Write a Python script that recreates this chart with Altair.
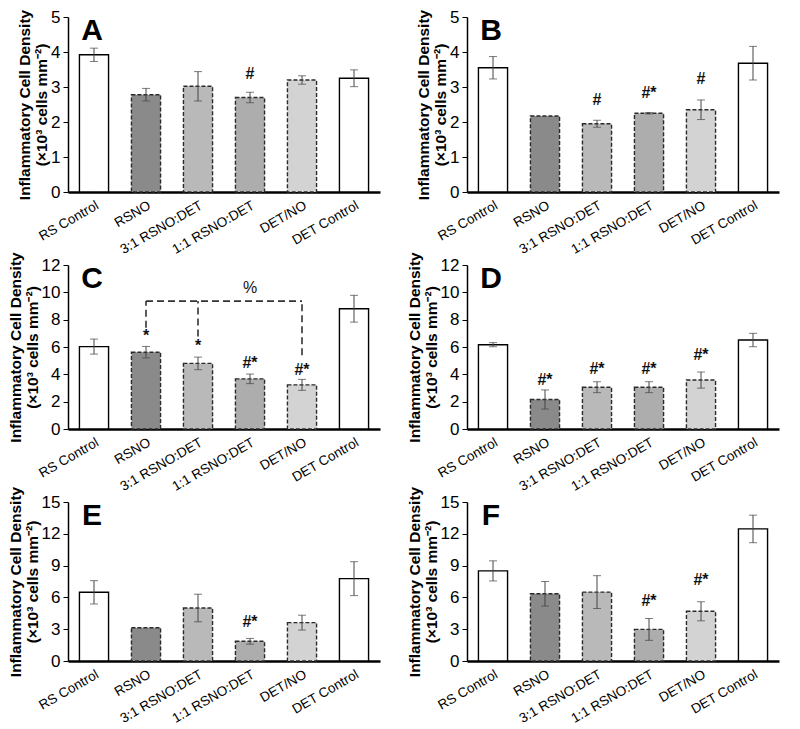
import altair as alt
import pandas as pd

categories = ["RS Control", "RSNO", "3:1 RSNO:DET", "1:1 RSNO:DET", "DET/NO", "DET Control"]
fills = ["#ffffff", "#8a8a8a", "#b9b9b9", "#adadad", "#d3d3d3", "#ffffff"]
dashes = [[1, 0], [4, 2], [4, 2], [4, 2], [4, 2], [1, 0]]
strokes = ["#000000", "#2a2a2a", "#2a2a2a", "#2a2a2a", "#2a2a2a", "#000000"]

panels = ["A", "B", "C", "D", "E", "F"]
means = {
    "A": [3.92, 2.78, 3.02, 2.70, 3.20, 3.25],
    "B": [3.55, 2.17, 1.95, 2.25, 2.35, 3.68],
    "C": [6.03, 5.62, 4.80, 3.67, 3.23, 8.80],
    "D": [6.17, 2.16, 3.06, 3.06, 3.58, 6.51],
    "E": [6.48, 3.14, 5.00, 1.86, 3.62, 7.77],
    "F": [8.50, 6.34, 6.50, 2.98, 4.69, 12.46],
}
errs = {
    "A": [0.19, 0.18, 0.42, 0.15, 0.12, 0.24],
    "B": [0.32, 0.0, 0.10, 0.02, 0.28, 0.48],
    "C": [0.55, 0.42, 0.46, 0.35, 0.40, 0.98],
    "D": [0.15, 0.70, 0.40, 0.40, 0.59, 0.49],
    "E": [1.10, 0.0, 1.30, 0.27, 0.70, 1.60],
    "F": [0.95, 1.16, 1.55, 1.03, 0.90, 1.30],
}
y_max = {"A": 5, "B": 5, "C": 12, "D": 12, "E": 15, "F": 15}
y_step = {"A": 1, "B": 1, "C": 2, "D": 2, "E": 3, "F": 3}

ann_panel = ["A", "B", "B", "B", "C", "C", "C", "C", "D", "D", "D", "D", "E", "F", "F"]
ann_cat = ["1:1 RSNO:DET", "3:1 RSNO:DET", "1:1 RSNO:DET", "DET/NO",
           "RSNO", "3:1 RSNO:DET", "1:1 RSNO:DET", "DET/NO",
           "RSNO", "3:1 RSNO:DET", "1:1 RSNO:DET", "DET/NO",
           "1:1 RSNO:DET", "1:1 RSNO:DET", "DET/NO"]
ann_y = [3.38, 2.63, 2.84, 3.22, 6.8, 6.1, 4.8, 4.3, 3.55, 4.4, 4.4, 5.4, 3.68, 5.65, 7.6]
ann_text = ["#", "#", "#*", "#", "*", "*", "#*", "#*", "#*", "#*", "#*", "#*", "#*", "#*", "#*"]

# bracket in panel C
bracket_y = 9.36
bracket_from = "RSNO"
bracket_to = "DET/NO"
drop_cat = ["RSNO", "3:1 RSNO:DET", "DET/NO"]
drop_bottom = [7.4, 6.77, 5.4]
pct_cat = "1:1 RSNO:DET"
pct_y = 10.3

heights = {"A": 175, "B": 175, "C": 164, "D": 164, "E": 159, "F": 159}
FONT = "Liberation Sans, Arial, sans-serif"


def make_panel(p):
    df = pd.DataFrame({"cat": categories, "mean": means[p], "err": errs[p]})
    df["lo"] = df["mean"] - df["err"]
    df["hi"] = df["mean"] + df["err"]
    ymax = y_max[p]
    ticks = list(range(0, ymax + 1, y_step[p]))
    xscale = alt.Scale(domain=categories, paddingInner=0.44, paddingOuter=0.22)
    xaxis = alt.Axis(title=None, labelAngle=-30, labelFontSize=13.5, labelFont=FONT,
                     labelColor="#000", ticks=False, domainWidth=2.4,
                     domainColor="#000", labelPadding=6)
    yscale = alt.Scale(domain=[0, ymax], nice=False, zero=True)
    yaxis = alt.Axis(values=ticks, title=["Inflammatory Cell Density", "(×10³ cells mm⁻²)"],
                     titleFont=FONT, titleFontSize=15.5, titleFontWeight="bold",
                     titleColor="#000", titleLineHeight=17, titlePadding=1, titleLimit=400,
                     labelFont=FONT, labelFontSize=17, labelColor="#000", labelPadding=3,
                     labelOverlap=False,
                     tickSize=5, tickColor="#000", domainColor="#000", domainWidth=1.5,
                     grid=False)

    def X(field):
        return alt.X(field, sort=categories, scale=xscale, axis=xaxis)

    def Y(field):
        return alt.Y(field, scale=yscale, axis=yaxis)

    base = alt.Chart(df)
    bars = base.mark_bar(strokeWidth=1.4).encode(
        x=X("cat:N"),
        y=Y("mean:Q"),
        fill=alt.Fill("cat:N", scale=alt.Scale(domain=categories, range=fills), legend=None),
        stroke=alt.Stroke("cat:N", scale=alt.Scale(domain=categories, range=strokes), legend=None),
        strokeDash=alt.StrokeDash("cat:N", scale=alt.Scale(domain=categories, range=dashes), legend=None),
    )
    eb = base.transform_filter("datum.err > 0")
    rule = eb.mark_rule(color="#444", strokeWidth=1).encode(
        x=X("cat:N"), y=Y("lo:Q"), y2="hi:Q")
    cap_hi = eb.mark_tick(color="#444", thickness=1, size=8).encode(
        x=X("cat:N"), y=Y("hi:Q"))
    cap_lo = eb.mark_tick(color="#444", thickness=1, size=8).encode(
        x=X("cat:N"), y=Y("lo:Q"))
    layers = [bars, rule, cap_hi, cap_lo]

    adf = pd.DataFrame({"panel": ann_panel, "cat": ann_cat, "y": ann_y, "t": ann_text})
    adf = adf[adf["panel"] == p]
    if len(adf):
        layers.append(alt.Chart(adf).mark_text(font=FONT, fontSize=16, fontWeight="bold",
                                               color="#111", baseline="middle").encode(
            x=X("cat:N"), y=Y("y:Q"), text="t:N"))

    if p == "C":
        hdf = pd.DataFrame({"a": [bracket_from], "b": [bracket_to], "y": [bracket_y]})
        layers.append(alt.Chart(hdf).mark_rule(color="#333", strokeWidth=1.6, strokeDash=[7, 4]).encode(
            x=X("a:N"), x2="b:N", y=Y("y:Q")))
        vdf = pd.DataFrame({"cat": drop_cat, "top": [bracket_y] * len(drop_cat), "bot": drop_bottom})
        layers.append(alt.Chart(vdf).mark_rule(color="#333", strokeWidth=1.6, strokeDash=[7, 4]).encode(
            x=X("cat:N"), y=Y("bot:Q"), y2="top:Q"))
        pdf = pd.DataFrame({"cat": [pct_cat], "y": [pct_y], "t": ["%"]})
        layers.append(alt.Chart(pdf).mark_text(font=FONT, fontSize=16, color="#111").encode(
            x=X("cat:N"), y=Y("y:Q"), text="t:N"))

    ldf = pd.DataFrame({"t": [p]})
    layers.append(alt.Chart(ldf).mark_text(font=FONT, fontSize=30, fontWeight="bold",
                                           color="#000", align="center", baseline="middle").encode(
        x=alt.value(24), y=alt.value(14), text="t:N"))

    return alt.layer(*layers).properties(width=312, height=heights[p])


chart = alt.concat(*[make_panel(p) for p in panels], columns=2,
                   spacing={"row": 73, "column": 87}, bounds="flush").properties(
    padding={"left": 0, "top": 0, "right": 5, "bottom": 2}, background="white"
).configure_view(stroke=None)

chart.save("out.html", embed_options={"renderer": "svg", "actions": False})
